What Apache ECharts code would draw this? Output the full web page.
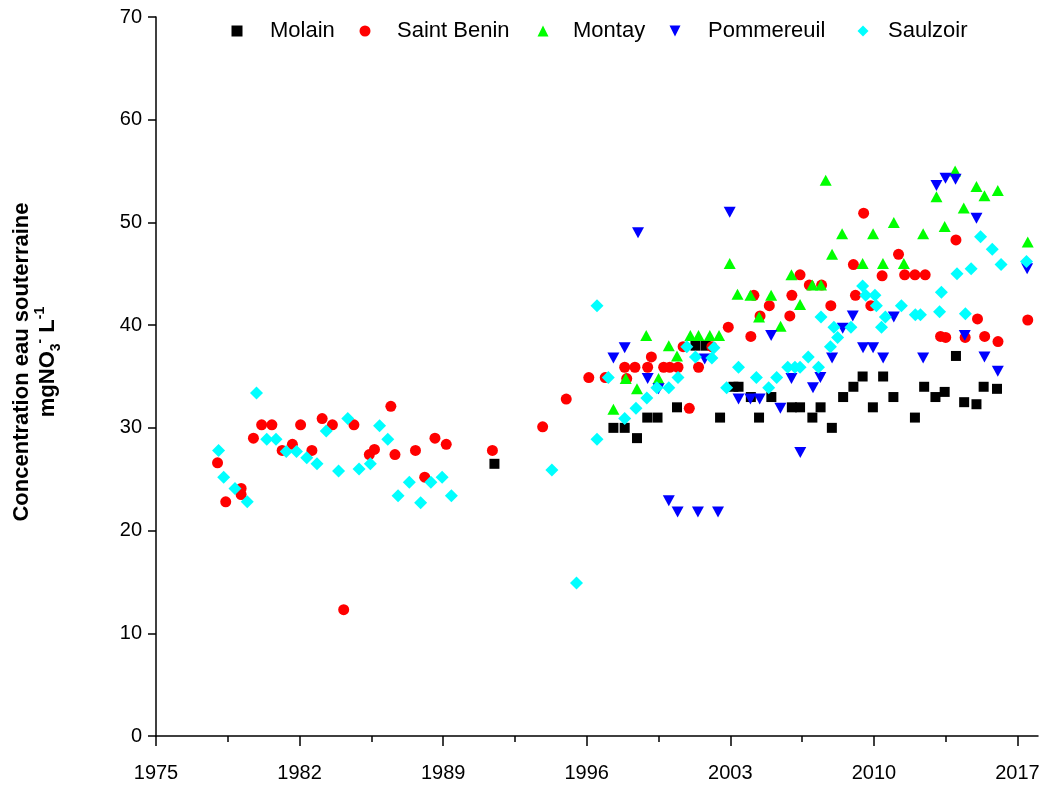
<!DOCTYPE html>
<html>
<head>
<meta charset="utf-8">
<script src="https://cdn.jsdelivr.net/npm/echarts@6/dist/echarts.min.js"></script>
<style>
html,body{margin:0;padding:0;background:#fff;}
#chart{width:1043px;height:787px;}
</style>
</head>
<body>
<div id="chart"></div>
<script>
// ---- Data (year, mgNO3-/L) ----
const seriesNames = ['Molain', 'Saint Benin', 'Montay', 'Pommereuil', 'Saulzoir'];

const molain = [[1991.5,26.5],[1997.3,30],[1997.85,30],[1998.45,29],[1998.95,31],[1999.45,31],[2000.4,32],[2001.3,38],[2001.8,38],[2002.5,31],[2003.15,34],[2003.4,34],[2004.0,33],[2004.4,31],[2005.0,33],[2006.0,32],[2006.4,32],[2007.0,31],[2007.4,32],[2007.95,30],[2008.5,33],[2009.0,34],[2009.45,35],[2009.95,32],[2010.45,35],[2010.95,33],[2012.0,31],[2012.45,34],[2013.0,33],[2013.45,33.5],[2014.0,37],[2014.4,32.5],[2015.0,32.3],[2015.35,34],[2016.0,33.8]];

const saintBenin = [[1978.0,26.6],[1978.4,22.8],[1979.15,24.1],[1979.15,23.5],[1979.75,29.0],[1980.15,30.3],[1980.65,30.3],[1981.15,27.8],[1981.65,28.4],[1982.05,30.3],[1982.6,27.8],[1983.1,30.9],[1983.6,30.3],[1984.15,12.3],[1984.65,30.3],[1985.4,27.4],[1985.65,27.9],[1986.45,32.1],[1986.65,27.4],[1987.65,27.8],[1988.1,25.2],[1988.6,29.0],[1989.15,28.4],[1991.4,27.8],[1993.85,30.1],[1995.0,32.8],[1996.1,34.9],[1996.9,34.9],[1997.85,35.9],[1997.95,34.8],[1998.35,35.9],[1998.97,35.9],[1999.15,36.9],[1999.75,35.9],[2000.05,35.9],[2000.45,35.9],[2000.7,37.9],[2001.0,31.9],[2001.45,35.9],[2002.1,37.9],[2002.9,39.8],[2004.0,38.9],[2004.15,42.9],[2004.45,40.9],[2004.9,41.9],[2005.9,40.9],[2006.0,42.9],[2006.4,44.9],[2006.85,43.9],[2007.45,43.9],[2007.9,41.9],[2009.0,45.9],[2009.1,42.9],[2009.5,50.9],[2009.85,41.9],[2010.4,44.8],[2011.2,46.9],[2011.5,44.9],[2012.0,44.9],[2012.5,44.9],[2013.25,38.9],[2013.5,38.8],[2014.0,48.3],[2014.45,38.8],[2015.05,40.6],[2015.4,38.9],[2016.05,38.4],[2017.5,40.5]];

const montay = [[1997.3,31.8],[1997.9,34.8],[1998.45,33.8],[1998.9,39.0],[1999.5,34.8],[2000.0,38.0],[2000.4,37.0],[2001.05,39.0],[2001.45,39.0],[2002.0,39.0],[2002.45,39.0],[2002.97,46.0],[2003.35,43.0],[2003.98,42.9],[2004.4,40.8],[2004.99,42.9],[2005.45,39.9],[2005.98,44.9],[2006.4,42.0],[2007.0,43.9],[2007.42,43.9],[2007.65,54.1],[2007.96,46.9],[2008.45,48.9],[2009.45,46.0],[2009.96,48.9],[2010.44,46.0],[2010.97,50.0],[2011.46,46.0],[2012.4,48.9],[2013.05,52.5],[2013.45,49.6],[2013.96,55.0],[2014.38,51.4],[2015.0,53.5],[2015.39,52.6],[2016.04,53.1],[2017.5,48.1]];

const pommereuil = [[1997.3,36.8],[1997.85,37.8],[1998.5,49.0],[1998.97,34.8],[1999.5,33.8],[2000.0,22.9],[2000.43,21.8],[2001.42,21.8],[2001.75,36.7],[2002.4,21.8],[2002.97,51.0],[2003.4,32.8],[2003.98,32.8],[2004.43,32.8],[2004.99,39.0],[2005.44,31.9],[2005.98,34.8],[2006.41,27.6],[2007.03,33.9],[2007.39,34.9],[2007.96,36.8],[2008.48,39.7],[2008.97,40.9],[2009.47,37.8],[2009.96,37.8],[2010.45,36.8],[2010.97,40.8],[2012.4,36.8],[2013.05,53.6],[2013.49,54.3],[2013.98,54.2],[2014.43,39.0],[2015.0,50.4],[2015.39,36.9],[2016.04,35.5],[2017.47,45.5]];

const saulzoir = [[1978.05,27.8],[1978.3,25.2],[1978.85,24.1],[1979.45,22.8],[1979.9,33.4],[1980.4,28.9],[1980.85,28.9],[1981.35,27.7],[1981.85,27.7],[1982.35,27.1],[1982.85,26.5],[1983.3,29.7],[1983.9,25.8],[1984.35,30.9],[1984.9,26.0],[1985.45,26.5],[1985.9,30.2],[1986.3,28.9],[1986.8,23.4],[1987.35,24.7],[1987.9,22.7],[1988.4,24.7],[1988.95,25.2],[1989.4,23.4],[1994.3,25.9],[1995.5,14.9],[1996.5,41.9],[1996.5,28.9],[1997.05,34.9],[1997.85,30.9],[1998.4,31.9],[1998.93,32.9],[1999.42,33.9],[2000.0,33.9],[2000.45,34.9],[2000.88,37.9],[2001.3,36.9],[2002.1,36.8],[2002.2,37.8],[2002.82,33.9],[2003.4,35.9],[2004.27,34.9],[2004.87,33.9],[2005.26,34.9],[2005.8,35.9],[2006.15,35.9],[2006.4,35.9],[2006.8,36.9],[2007.3,35.9],[2007.42,40.8],[2007.88,37.9],[2008.05,39.8],[2008.23,38.8],[2008.88,39.8],[2009.45,43.8],[2009.6,42.9],[2010.05,42.9],[2010.12,41.9],[2010.37,39.8],[2010.56,40.8],[2011.34,41.9],[2012.02,41.0],[2012.27,41.0],[2013.2,41.3],[2013.29,43.2],[2014.05,45.0],[2014.46,41.1],[2014.74,45.5],[2015.2,48.6],[2015.77,47.4],[2016.2,45.9],[2017.44,46.2]];

// ---- Axis ticks ----
const xMajorTicks = [1975, 1982, 1989, 1996, 2003, 2010, 2017];
const xMinorTicks = [1978.5, 1985.5, 1992.5, 1999.5, 2006.5, 2013.5];
const yTicks = [0, 10, 20, 30, 40, 50, 60, 70];

const FONT = 'Liberation Sans, Arial, sans-serif';
const chart = echarts.init(document.getElementById('chart'), null, {renderer: 'canvas'});

const DOWN_TRIANGLE = 'path://M0,0 L2,0 L1,2 Z';
const styles = [
  {symbol: 'rect', size: 10, color: '#000000', rotate: 0, icon: 'rect'},
  {symbol: 'circle', size: 11, color: '#FF0000', rotate: 0, icon: 'circle'},
  {symbol: 'triangle', size: [12, 11], color: '#00FF00', rotate: 0, icon: 'triangle'},
  {symbol: 'triangle', size: [12, 11], color: '#0000FF', rotate: 180, icon: DOWN_TRIANGLE},
  {symbol: 'diamond', size: 13, color: '#00FFFF', rotate: 0, icon: 'diamond'}
];
const allData = [molain, saintBenin, montay, pommereuil, saulzoir];

// icon center x and text start x for each legend entry
const legendIconX = [232, 360, 538, 670, 858];
const legendTextX = [265, 392, 568, 703, 883];
const ICON = 11;

const option = {
  animation: false,
  backgroundColor: '#ffffff',
  grid: {left: 156, top: 17, right: 5, bottom: 51},
  legend: seriesNames.map((n, i) => ({
    data: [{name: n, icon: styles[i].icon}],
    left: legendIconX[i] - ICON / 2,
    top: 15,
    itemWidth: ICON,
    itemHeight: ICON,
    itemGap: 0,
    selectedMode: false,
    textStyle: {
      fontFamily: FONT, fontSize: 22, color: '#000',
      padding: [0, 0, 0, legendTextX[i] - legendIconX[i] - ICON / 2 - 5]
    }
  })),
  xAxis: [
    {
      type: 'value', min: 1975, max: 2018, position: 'bottom',
      axisLine: {show: true, onZero: false, lineStyle: {color: '#000', width: 1.5}},
      axisTick: {show: true, customValues: xMajorTicks, length: 10, lineStyle: {color: '#000', width: 1.5}},
      axisLabel: {customValues: xMajorTicks, formatter: v => String(v), fontFamily: FONT, fontSize: 20, color: '#000', margin: 27},
      splitLine: {show: false}
    },
    {
      type: 'value', min: 1975, max: 2018, position: 'bottom',
      axisLine: {show: false, onZero: false},
      axisTick: {show: true, customValues: xMinorTicks, length: 6, lineStyle: {color: '#000', width: 1.5}},
      axisLabel: {show: false},
      splitLine: {show: false}
    }
  ],
  yAxis: {
    type: 'value', min: 0, max: 70, interval: 10,
    axisLine: {show: true, onZero: false, lineStyle: {color: '#000', width: 1.5}},
    axisTick: {show: true, customValues: yTicks, length: 8, lineStyle: {color: '#000', width: 1.5}},
    axisLabel: {customValues: yTicks, formatter: v => String(v), fontFamily: FONT, fontSize: 20, color: '#000', margin: 14},
    splitLine: {show: false}
  },
  graphic: [
    {
      type: 'text', x: 22, y: 362, rotation: Math.PI / 2,
      style: {text: 'Concentration eau souterraine', fontFamily: FONT, fontSize: 22, fontWeight: 'bold', fill: '#000', align: 'center', verticalAlign: 'middle'}
    },
    {
      type: 'text', x: 48, y: 362, rotation: Math.PI / 2,
      style: {
        text: '{b|mgNO}{sub|3}{sup|-}{b| L}{sup|-1}',
        align: 'center', verticalAlign: 'middle',
        rich: {
          b: {fontFamily: FONT, fontSize: 22, fontWeight: 'bold', fill: '#000', lineHeight: 30, verticalAlign: 'middle'},
          sub: {fontFamily: FONT, fontSize: 14, fontWeight: 'bold', fill: '#000', lineHeight: 14, verticalAlign: 'bottom'},
          sup: {fontFamily: FONT, fontSize: 14, fontWeight: 'bold', fill: '#000', lineHeight: 14, verticalAlign: 'top'}
        }
      }
    }
  ],
  series: seriesNames.map((n, i) => ({
    name: n,
    type: 'scatter',
    data: allData[i],
    symbol: styles[i].symbol,
    symbolSize: styles[i].size,
    symbolRotate: styles[i].rotate,
    itemStyle: {color: styles[i].color, opacity: 1},
    emphasis: {disabled: true},
    z: 2 + i
  }))
};
chart.setOption(option);
</script>
</body>
</html>
